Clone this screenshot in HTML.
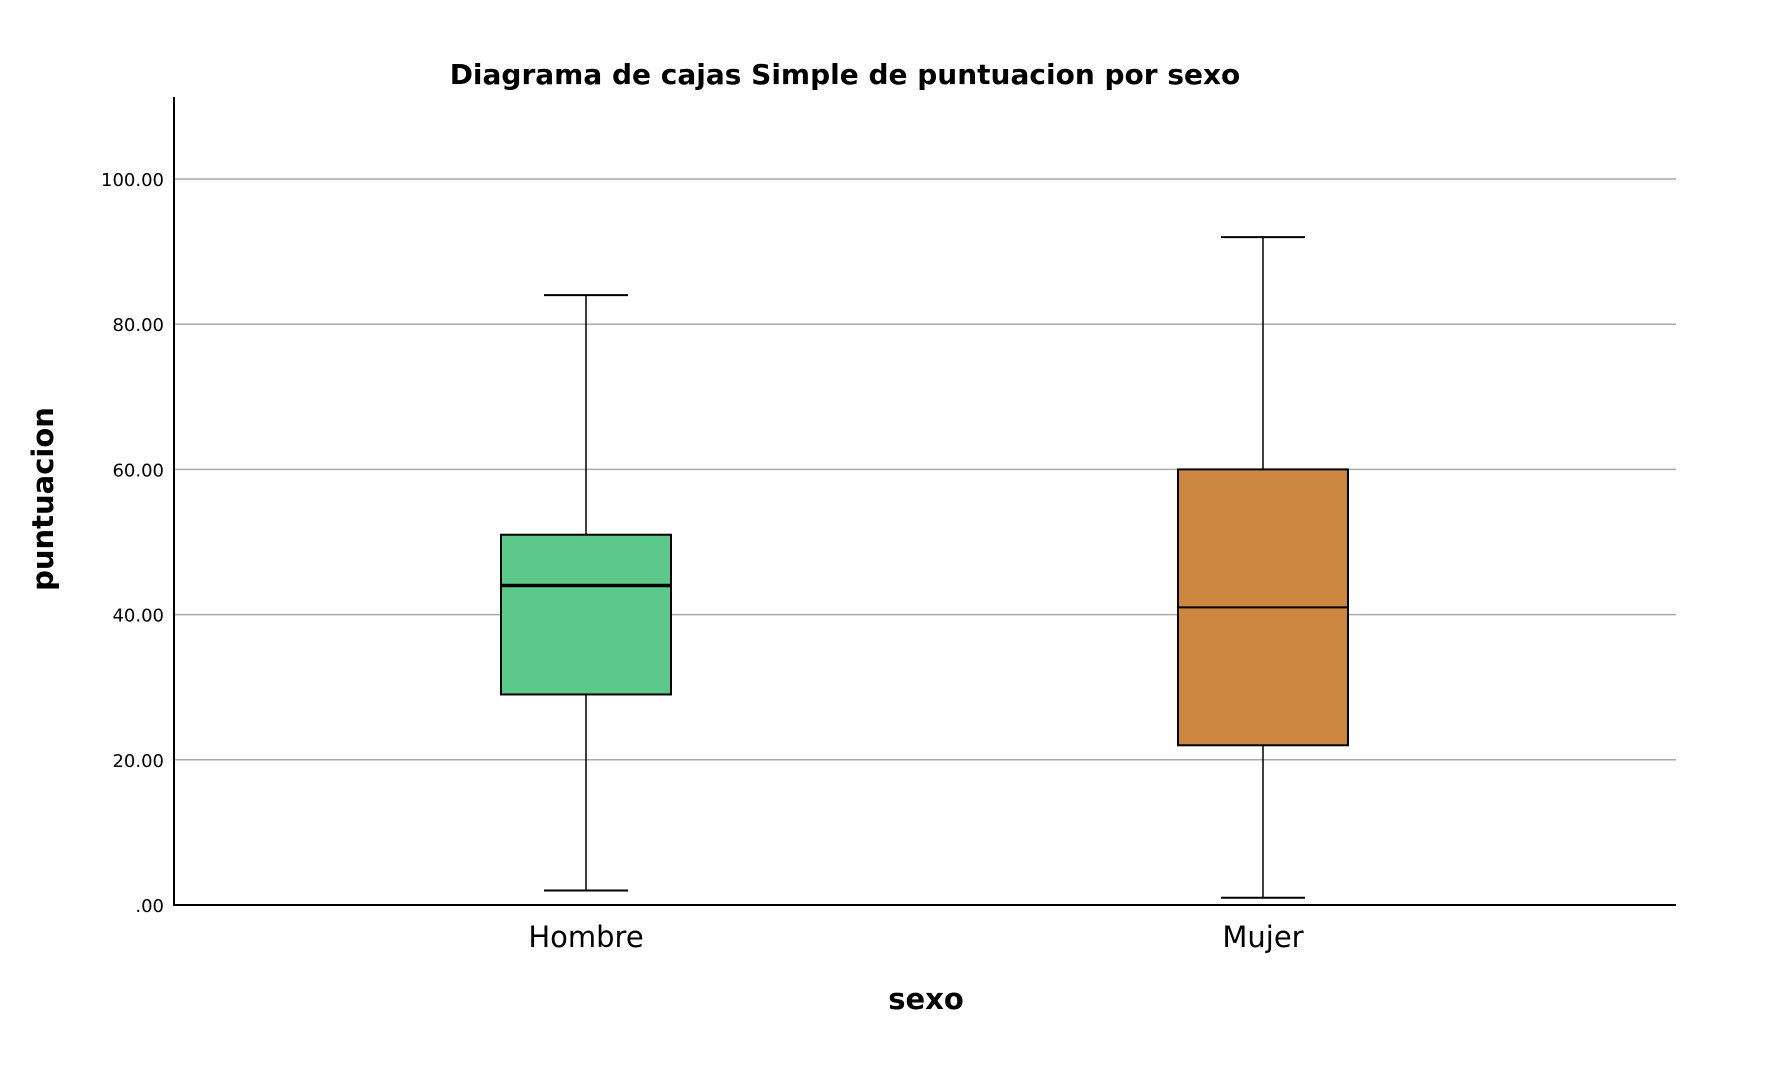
<!DOCTYPE html>
<html><head><meta charset="utf-8"><style>
body{margin:0;background:#fff;width:1776px;height:1062px;overflow:hidden}
text{font-family:"DejaVu Sans","Liberation Sans",sans-serif}
</style></head><body>
<svg id="chart" width="1776" height="1062" xmlns="http://www.w3.org/2000/svg">
<text x="845" y="84" text-anchor="middle" font-size="28" font-weight="bold">Diagrama de cajas Simple de puntuacion por sexo</text>
<g id="grid"></g><g id="boxes"></g>
<line x1="174" y1="97" x2="174" y2="906" stroke="#000" stroke-width="2"/>
<line x1="173" y1="905" x2="1676" y2="905" stroke="#000" stroke-width="2"/>
<text transform="translate(53,499) rotate(-90)" text-anchor="middle" font-size="29" font-weight="bold">puntuacion</text>
<text x="926" y="1009" text-anchor="middle" font-size="29" font-weight="bold">sexo</text>
</svg>
<script>
const categories=["Hombre","Mujer"];
const whiskerHigh=[84,92];
const q3=[51,60];
const medians=[44,41];
const q1=[29,22];
const whiskerLow=[2,1];
const yTicks=[0,20,40,60,80,100];
const yTickLabels=[".00","20.00","40.00","60.00","80.00","100.00"];
const colors=["#5cc98a","#cd8741"];
const medianWidths=[3.5,2];
const NS="http://www.w3.org/2000/svg";
const y=v=>905-v*(905-179)/100;
const x=i=>586+i*(1263-586);
function mk(tag,attrs,parent){const e=document.createElementNS(NS,tag);for(const k in attrs)e.setAttribute(k,attrs[k]);parent.appendChild(e);return e;}
const grid=document.getElementById('grid'),boxes=document.getElementById('boxes');
yTicks.forEach((t,i)=>{
  if(t>0){const l=mk('line',{x1:174,x2:1676,y1:y(t),y2:y(t),stroke:'#aaa','stroke-width':1.5},grid);
  
  }
  const tx=mk('text',{x:164,y:y(t)+7,'text-anchor':'end','font-size':18},grid);tx.textContent=yTickLabels[i];
  
  
});
categories.forEach((c,i)=>{
  const cx=x(i),g=mk('g',{},boxes);
  
  
  mk('line',{x1:cx,x2:cx,y1:y(whiskerHigh[i]),y2:y(q3[i]),stroke:'#000','stroke-width':1.5},g);
  mk('line',{x1:cx,x2:cx,y1:y(q1[i]),y2:y(whiskerLow[i]),stroke:'#000','stroke-width':1.5},g);
  mk('line',{x1:cx-42,x2:cx+42,y1:y(whiskerHigh[i]),y2:y(whiskerHigh[i]),stroke:'#000','stroke-width':2},g);
  mk('line',{x1:cx-42,x2:cx+42,y1:y(whiskerLow[i]),y2:y(whiskerLow[i]),stroke:'#000','stroke-width':2},g);
  mk('rect',{x:cx-85,width:170,y:y(q3[i]),height:y(q1[i])-y(q3[i]),fill:colors[i],stroke:'#000','stroke-width':2},g);
  mk('line',{x1:cx-85,x2:cx+85,y1:y(medians[i]),y2:y(medians[i]),stroke:'#000','stroke-width':medianWidths[i]},g);
  const t=mk('text',{x:cx,y:947,'text-anchor':'middle','font-size':29},boxes);t.textContent=c;
  
  
});
</script>
</body></html>
